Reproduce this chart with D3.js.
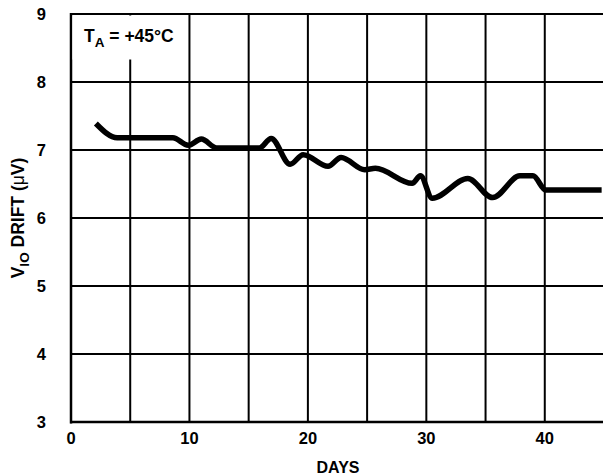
<!DOCTYPE html>
<html><head><meta charset="utf-8">
<script src="https://cdn.jsdelivr.net/npm/d3@7"></script>
<style>body{margin:0;background:#fff}svg{display:block}text{font-family:"Liberation Sans",Arial,sans-serif;font-weight:bold;fill:#000}</style>
</head><body><svg id="c" width="603" height="476"></svg>
<script>
const days = [2.1,3.9,8.6,9.9,11.0,12.3,15.9,16.9,18.5,19.6,21.7,22.8,24.8,25.7,28.8,29.5,30.5,33.5,35.6,37.9,39.0,40.1,44.8];
const drift = [7.39,7.18,7.18,7.07,7.16,7.03,7.03,7.17,6.79,6.93,6.76,6.89,6.71,6.73,6.51,6.62,6.29,6.58,6.30,6.62,6.62,6.41,6.41];
const xTicks = [0,10,20,30,40];
const yTicks = [3,4,5,6,7,8,9];
const xGrid = [5,10,15,20,25,30,35,40,45];

const svg = d3.select("#c");
const L=71, R=604, T=14, B=422;
const x = d3.scaleLinear().domain([0,45]).range([L,R]);
const y = d3.scaleLinear().domain([3,9]).range([B,T]);

const g = svg.append("g");
// grid
g.selectAll(".vg").data(xGrid).join("line")
 .attr("x1",d=>x(d)).attr("x2",d=>x(d)).attr("y1",T).attr("y2",B)
 .attr("stroke","#000").attr("stroke-width",2);
g.selectAll(".hg").data(yTicks).join("line")
 .attr("x1",L).attr("x2",R).attr("y1",d=>y(d)).attr("y2",d=>y(d))
 .attr("stroke","#000").attr("stroke-width",2);
// axes border
g.append("line").attr("x1",L).attr("x2",L).attr("y1",T-1).attr("y2",B+1.5).attr("stroke","#000").attr("stroke-width",2.5);
g.append("line").attr("x1",L-1).attr("x2",R).attr("y1",B).attr("y2",B).attr("stroke","#000").attr("stroke-width",2.5);

// annotation box (white, covers grid)
g.append("rect").attr("x",L+1.5).attr("y",T+1.5).attr("width",x(10)-L-3).attr("height",44).attr("fill","#fff");
const ann = g.append("text").attr("x",84).attr("y",42).attr("font-size",17.5);
ann.append("tspan").text("T");
ann.append("tspan").attr("font-size",13.5).attr("dy",4.5).text("A");
ann.append("tspan").attr("dy",-4.5).text(" = +45°C");

// tick labels
svg.selectAll(".xt").data(xTicks).join("text")
 .attr("x",d=>x(d)).attr("y",444).attr("text-anchor","middle").attr("font-size",16.5).text(d=>d);
svg.selectAll(".yt").data(yTicks).join("text")
 .attr("x",46).attr("y",d=>y(d)+6).attr("text-anchor","end").attr("font-size",16.5).text(d=>d);

// axis titles
svg.append("text").attr("x",338).attr("y",473).attr("text-anchor","middle").attr("font-size",16).text("DAYS");
const yl = svg.append("text").attr("transform","translate(24,218) rotate(-90)").attr("text-anchor","middle").attr("font-size",17.5);
yl.append("tspan").text("V");
yl.append("tspan").attr("font-size",13.5).attr("dy",4.5).text("IO");
yl.append("tspan").attr("dy",-4.5).text(" DRIFT (");
yl.append("tspan").attr("font-weight","normal").text("μ");
yl.append("tspan").text("V)");

// data line
const line = d3.line().x((d,i)=>x(days[i])).y((d,i)=>y(drift[i])).curve(d3.curveMonotoneX);
svg.append("path").attr("d",line(drift)).attr("fill","none").attr("stroke","#000")
 .attr("stroke-width",5.5).attr("stroke-linejoin","round").attr("stroke-linecap","butt");
</script></body></html>
